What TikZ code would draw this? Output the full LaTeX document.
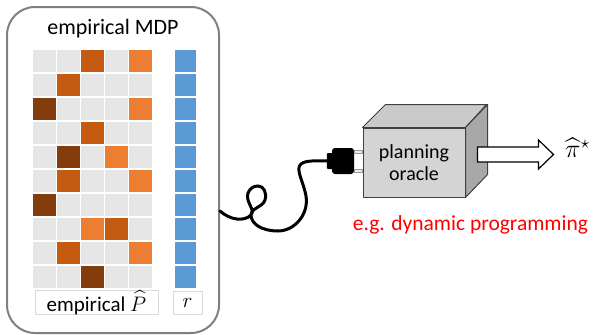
\RequirePackage{fix-cm}
\documentclass[tikz,border=0pt]{standalone}
\usepackage{amsmath}
\usepackage{fontspec}
\setmainfont{Carlito}
\usetikzlibrary{calc,positioning}
\definecolor{cellgray}{HTML}{E6E6E6}
\definecolor{rustdark}{HTML}{843C0C}
\definecolor{rustmid}{HTML}{C55A11}
\definecolor{rustlight}{HTML}{ED7D31}
\definecolor{reward}{HTML}{5B9BD5}
\definecolor{rim}{HTML}{808080}
\definecolor{boxfront}{HTML}{D4D4D4}
\definecolor{boxtop}{HTML}{CACACA}
\definecolor{boxside}{HTML}{A8A8A8}
\definecolor{edge}{HTML}{404040}
\definecolor{hint}{HTML}{FF0000}
\tikzset{
  mdpbox/.style={draw=rim, line width=2pt, rounded corners=28pt},
  cell/.style={draw=white, line width=1.2pt},
  tag/.style={draw=black!15, line width=.6pt, inner sep=0pt, font=\fontsize{21}{24}\selectfont},
  cubeedge/.style={draw=edge, line width=1pt, line join=round},
  cable/.style={draw=black, line width=3pt, line cap=round},
  prong/.style={draw=black!40, fill=black!8, line width=.6pt},
  outarrow/.style={draw=black, fill=white, line width=1.2pt, line join=miter}
}

\begin{document}
\begin{tikzpicture}[x=1pt,y=-1pt]
\useasboundingbox (0,0) rectangle (598,335);

% Left panel: empirical model in a rounded frame.
\node[mdpbox, minimum width=212pt, minimum height=326pt] (mdp) at (113,170) {};
\node[font=\fontsize{22}{26}\selectfont] (mdptitle) at (113,29) {empirical MDP};

% Transition matrix and reward column, background cells first.
\foreach \i in {0,...,9} {
  \foreach \j in {0,...,4}
    \draw[cell, fill=cellgray] (32+24.2*\j, 49+24*\i) rectangle ++(24.2,24);
  \draw[cell, fill=reward] (174, 49+24*\i) rectangle ++(23,24);
}
\foreach \i/\j/\shade in {0/2/rustmid, 0/4/rustlight, 1/1/rustmid, 2/0/rustdark,
  2/4/rustlight, 3/2/rustmid, 4/1/rustdark, 4/3/rustlight, 5/1/rustmid,
  5/4/rustlight, 6/0/rustdark, 7/2/rustlight, 7/3/rustmid, 8/1/rustmid,
  8/4/rustlight, 9/2/rustdark}
  \draw[cell, fill=\shade] (32+24.2*\j, 49+24*\i) rectangle ++(24.2,24);
\draw[white, line width=2pt] (32,73) -- (197,73);

\node[tag, minimum width=123pt, minimum height=23pt] (plabel) at (96.5,302.5)
  {empirical $\widehat{P}$};
\node[tag, minimum width=29pt, minimum height=23pt] (rlabel) at (187.5,302.5) {$r$};

% Oracle drawn as a shaded cube.
\node[cubeedge, fill=boxfront, minimum width=102pt, minimum height=69pt,
  align=center, font=\fontsize{20}{22}\selectfont] (oracle) at (414,162.5)
  {planning\\oracle};
\draw[cubeedge, fill=boxtop] (oracle.north west) -- ++(23,-23) -- ++(101,0)
  -- (oracle.north east) -- cycle;
\draw[cubeedge, fill=boxside] (oracle.north east) -- ++(22,-23) -- ++(0,70)
  -- (oracle.south east) -- cycle;

% Plug with its two prongs.
\node[fill=black, rounded corners=3pt, minimum width=22pt, minimum height=26pt,
  inner sep=0pt] (plug) at (343,161) {};
\fill[rounded corners=1pt] ($(plug.west)+(-5,-8)$) rectangle ($(plug.west)+(1,8)$);
\coordinate (plugtail) at ($(plug.west)+(-4,0)$);
\draw[prong] ($(plug.east)+(0,-11)$) rectangle ($(oracle.west)+(0,-8)-(0,1.5)$);
\draw[prong] ($(plug.east)+(0,8)$) rectangle ($(oracle.west)+(0,11)-(0,1.5)$);

% Coiled cable from the frame to the plug.
\coordinate (jack) at (220,211);
\draw[cable] (jack) .. controls (230,220) and (244,222) .. (251,215)
  .. controls (256,210) and (245,202) .. (248,193)
  .. controls (250,188) and (254,186) .. (258,186)
  .. controls (264,186) and (267,193) .. (265,200)
  .. controls (263,207) and (251,208) .. (251,215)
  .. controls (251,224) and (262,231) .. (278,231)
  .. controls (294,231) and (309,215) .. (306,196)
  .. controls (303,180) and (295,169) .. (301,164)
  .. controls (306,160) and (316,161) .. (plugtail);

% Hollow output arrow towards the policy.
\coordinate (spout) at ($(oracle.east)+(12,-8)$);
\draw[outarrow] (spout) +(0,-7.5) -- +(61,-7.5) -- +(61,-14.5) -- +(76,0)
  -- +(61,14.5) -- +(61,7.5) -- +(0,7.5) -- cycle;
\node[font=\fontsize{20}{24}\selectfont, anchor=west, inner sep=0pt] (pistar)
  at (565,148) {\scalebox{1.3}{$\widehat{\pi}^{\star}$}};

\node[text=hint, font=\fontsize{21.5}{24}\selectfont] (dp) at (470.5,225)
  {e.g. dynamic programming};

\end{tikzpicture}
\end{document}
